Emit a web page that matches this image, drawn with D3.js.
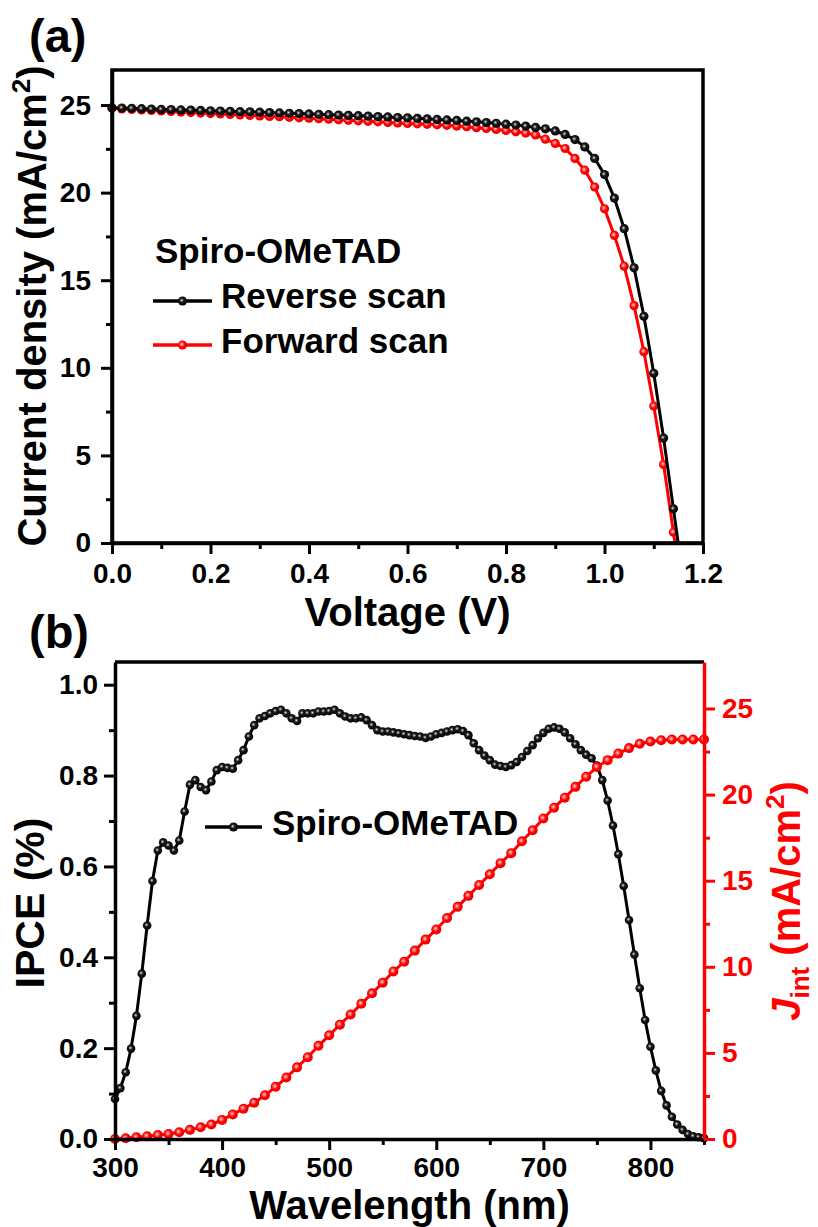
<!DOCTYPE html>
<html>
<head>
<meta charset="utf-8">
<script src="https://cdn.jsdelivr.net/npm/d3@7"></script>
<style>
body { margin: 0; background: #fff; }
svg text { font-family: "Liberation Sans", Arial, sans-serif; font-weight: bold; }
</style>
</head>
<body>
<div id="chart"></div>
<script>
// (a) J-V curves
const voltage = [0.00, 0.02, 0.04, 0.06, 0.08, 0.10, 0.12, 0.14, 0.16, 0.18,
    0.20, 0.22, 0.24, 0.26, 0.28, 0.30, 0.32, 0.34, 0.36, 0.38,
    0.40, 0.42, 0.44, 0.46, 0.48, 0.50, 0.52, 0.54, 0.56, 0.58,
    0.60, 0.62, 0.64, 0.66, 0.68, 0.70, 0.72, 0.74, 0.76, 0.78,
    0.80, 0.82, 0.84, 0.86, 0.88, 0.90, 0.92, 0.94, 0.96, 0.98,
    1.00, 1.02, 1.04, 1.06, 1.08, 1.10, 1.12, 1.14, 1.16];
const reverseJ = [24.85, 24.83, 24.81, 24.79, 24.77, 24.75, 24.74, 24.72, 24.71, 24.69,
    24.67, 24.66, 24.64, 24.62, 24.61, 24.59, 24.57, 24.55, 24.53, 24.51,
    24.49, 24.47, 24.45, 24.43, 24.41, 24.39, 24.37, 24.34, 24.32, 24.29,
    24.27, 24.24, 24.21, 24.18, 24.15, 24.12, 24.08, 24.04, 24.00, 23.96,
    23.91, 23.86, 23.80, 23.72, 23.64, 23.52, 23.32, 23.03, 22.61, 21.95,
    21.03, 19.69, 17.94, 15.71, 12.94, 9.69, 5.99, 1.95, -2.1];
const forwardJ = [24.82, 24.78, 24.75, 24.72, 24.69, 24.66, 24.63, 24.60, 24.57, 24.54,
    24.51, 24.49, 24.46, 24.43, 24.41, 24.38, 24.35, 24.33, 24.30, 24.27,
    24.25, 24.22, 24.19, 24.16, 24.13, 24.10, 24.07, 24.04, 24.01, 23.98,
    23.95, 23.93, 23.90, 23.87, 23.84, 23.80, 23.76, 23.71, 23.66, 23.61,
    23.55, 23.48, 23.40, 23.29, 23.05, 22.81, 22.52, 21.95, 21.28, 20.32,
    19.08, 17.56, 15.80, 13.55, 10.92, 7.82, 4.48, 0.61, -3.4];
const voltTicks = [0.0, 0.2, 0.4, 0.6, 0.8, 1.0, 1.2];
const voltMinor = [0.1, 0.3, 0.5, 0.7, 0.9, 1.1];
const currentTicks = [0, 5, 10, 15, 20, 25];
const currentMinor = [2.5, 7.5, 12.5, 17.5, 22.5];

// (b) IPCE and integrated current
const wavelength = [300, 305, 310, 315, 320, 325, 330, 335, 340, 345,
    350, 355, 360, 365, 370, 375, 380, 385, 390, 395,
    400, 405, 410, 415, 420, 425, 430, 435, 440, 445,
    450, 455, 460, 465, 470, 475, 480, 485, 490, 495,
    500, 505, 510, 515, 520, 525, 530, 535, 540, 545,
    550, 555, 560, 565, 570, 575, 580, 585, 590, 595,
    600, 605, 610, 615, 620, 625, 630, 635, 640, 645,
    650, 655, 660, 665, 670, 675, 680, 685, 690, 695,
    700, 705, 710, 715, 720, 725, 730, 735, 740, 745,
    750, 755, 760, 765, 770, 775, 780, 785, 790, 795,
    800, 805, 810, 815, 820, 825, 830, 835, 840, 845, 850];
const ipce = [0.088, 0.112, 0.147, 0.199, 0.271, 0.364, 0.470, 0.568, 0.635, 0.653,
    0.646, 0.635, 0.657, 0.721, 0.780, 0.790, 0.775, 0.768, 0.787, 0.812,
    0.819, 0.817, 0.815, 0.834, 0.856, 0.886, 0.911, 0.926, 0.931, 0.937,
    0.942, 0.945, 0.937, 0.926, 0.920, 0.937, 0.937, 0.937, 0.941, 0.941,
    0.942, 0.945, 0.937, 0.930, 0.926, 0.926, 0.928, 0.922, 0.911, 0.900,
    0.897, 0.897, 0.895, 0.893, 0.891, 0.889, 0.887, 0.886, 0.883, 0.886,
    0.891, 0.894, 0.897, 0.900, 0.902, 0.898, 0.889, 0.871, 0.856, 0.844,
    0.834, 0.824, 0.821, 0.819, 0.823, 0.830, 0.841, 0.854, 0.867, 0.882,
    0.894, 0.903, 0.906, 0.903, 0.895, 0.882, 0.869, 0.856, 0.846, 0.838,
    0.822, 0.790, 0.745, 0.690, 0.627, 0.557, 0.482, 0.406, 0.332, 0.262,
    0.203, 0.151, 0.106, 0.074, 0.049, 0.032, 0.020, 0.011, 0.006, 0.004, 0.002];
const jintWavelength = [300, 310, 320, 330, 340, 350, 360, 370, 380, 390,
    400, 410, 420, 430, 440, 450, 460, 470, 480, 490,
    500, 510, 520, 530, 540, 550, 560, 570, 580, 590,
    600, 610, 620, 630, 640, 650, 660, 670, 680, 690,
    700, 710, 720, 730, 740, 750, 760, 770, 780, 790,
    800, 810, 820, 830, 840, 850];
const jint = [0, 0.04, 0.10, 0.16, 0.23, 0.29, 0.39, 0.53, 0.68, 0.84,
    1.11, 1.43, 1.76, 2.11, 2.54, 3.03, 3.57, 4.16, 4.75, 5.41,
    6.02, 6.64, 7.23, 7.85, 8.46, 9.08, 9.73, 10.29, 10.94, 11.58,
    12.17, 12.83, 13.48, 14.12, 14.75, 15.37, 16.02, 16.60, 17.29, 17.93,
    18.61, 19.24, 19.82, 20.45, 21.04, 21.60, 22.00, 22.38, 22.70, 22.95,
    23.08, 23.16, 23.20, 23.20, 23.20, 23.20];
const wavelengthTicks = [300, 400, 500, 600, 700, 800];
const wavelengthMinor = [350, 450, 550, 650, 750, 850];
const ipceTicks = [0.0, 0.2, 0.4, 0.6, 0.8, 1.0];
const ipceMinor = [0.1, 0.3, 0.5, 0.7, 0.9];
const jintTicks = [0, 5, 10, 15, 20, 25];
const jintMinor = [2.5, 7.5, 12.5, 17.5, 22.5];

const RED = '#ff0000';
const TICK_FONT = 28;

const svg = d3.select('#chart').append('svg')
    .attr('width', 818)
    .attr('height', 1227);

const defs = svg.append('defs');

// shaded ball markers
function ballGradient(id, stops) {
    const grad = defs.append('radialGradient')
        .attr('id', id)
        .attr('cx', '42%').attr('cy', '42%').attr('r', '58%');
    stops.forEach(([o, c]) => grad.append('stop').attr('offset', o).attr('stop-color', c));
}
ballGradient('ballBlack', [['0%', '#e6e6e6'], ['16%', '#909090'], ['38%', '#1c1c1c'], ['100%', '#000']]);
ballGradient('ballRed', [['0%', '#ffd6d6'], ['25%', '#ff6a6a'], ['55%', '#ff0000'], ['100%', '#ea0000']]);

function clip(id, x, y, w, h) {
    defs.append('clipPath').attr('id', id)
        .append('rect').attr('x', x).attr('y', y).attr('width', w).attr('height', h);
}

function styleAxis(g, color) {
    g.attr('font-size', TICK_FONT)
        .attr('font-family', '"Liberation Sans", Arial, sans-serif')
        .attr('font-weight', 'bold');
    g.selectAll('line').attr('stroke', color).attr('stroke-width', 3);
    g.selectAll('path.domain').attr('stroke', color).attr('stroke-width', 3.5);
    g.selectAll('text').attr('fill', color);
}

function minorAxis(parent, axis, transform, color) {
    const g = parent.append('g').attr('transform', transform).call(axis);
    g.select('.domain').remove();
    g.selectAll('text').remove();
    g.selectAll('line').attr('stroke', color).attr('stroke-width', 3);
}

function series(parent, xs, ys, x, y, color, grad, r, clipId) {
    const pts = xs.map((v, i) => [v, ys[i]]);
    parent.append('path')
        .datum(pts)
        .attr('clip-path', `url(#${clipId})`)
        .attr('fill', 'none')
        .attr('stroke', color)
        .attr('stroke-width', 3)
        .attr('stroke-linejoin', 'round')
        .attr('d', d3.line().x(d => x(d[0])).y(d => y(d[1])));
    parent.append('g')
        .selectAll('circle')
        .data(pts.filter(d => d[1] >= 0))
        .join('circle')
        .attr('cx', d => x(d[0]))
        .attr('cy', d => y(d[1]))
        .attr('r', r)
        .attr('fill', `url(#${grad})`);
}

function legendItem(parent, x1, x2, y, color, grad, r, label, tx, ty) {
    parent.append('line')
        .attr('x1', x1).attr('x2', x2).attr('y1', y).attr('y2', y)
        .attr('stroke', color).attr('stroke-width', 3.5);
    parent.append('circle')
        .attr('cx', (x1 + x2) / 2).attr('cy', y).attr('r', r)
        .attr('fill', `url(#${grad})`);
    parent.append('text')
        .attr('x', tx).attr('y', ty)
        .attr('font-size', 35)
        .text(label);
}

// ---------- panel (a) ----------
const xA = d3.scaleLinear().domain([0, 1.2]).range([112, 703]);
const yA = d3.scaleLinear().domain([0, 27]).range([543, 70]);
clip('clipA', 112, 70, 591, 473);

const a = svg.append('g');

series(a, voltage, forwardJ, xA, yA, RED, 'ballRed', 4.6, 'clipA');
series(a, voltage, reverseJ, xA, yA, '#000', 'ballBlack', 4.6, 'clipA');

a.append('rect')
    .attr('x', 112).attr('y', 70).attr('width', 591).attr('height', 473)
    .attr('fill', 'none').attr('stroke', '#000').attr('stroke-width', 3.5);

minorAxis(a, d3.axisBottom(xA).tickValues(voltMinor).tickSize(6).tickFormat(''), 'translate(0,543)', '#000');
minorAxis(a, d3.axisLeft(yA).tickValues(currentMinor).tickSize(6).tickFormat(''), 'translate(112,0)', '#000');

a.append('g')
    .attr('transform', 'translate(0,543)')
    .call(d3.axisBottom(xA).tickValues(voltTicks).tickSize(11).tickSizeOuter(0).tickPadding(9).tickFormat(d3.format('.1f')))
    .call(g => styleAxis(g, '#000'));

a.append('g')
    .attr('transform', 'translate(112,0)')
    .call(d3.axisLeft(yA).tickValues(currentTicks).tickSize(11).tickSizeOuter(0).tickPadding(10))
    .call(g => styleAxis(g, '#000'));

a.append('text')
    .attr('x', 407.5).attr('y', 626)
    .attr('text-anchor', 'middle')
    .attr('font-size', 40)
    .text('Voltage (V)');

const yTitleA = a.append('text')
    .attr('transform', 'translate(46,306) rotate(-90)')
    .attr('text-anchor', 'middle')
    .attr('font-size', 40);
yTitleA.append('tspan').text('Current density (mA/cm');
yTitleA.append('tspan').attr('font-size', 26).attr('dy', -16).text('2');
yTitleA.append('tspan').attr('dy', 16).text(')');

a.append('text').attr('x', 155).attr('y', 263).attr('font-size', 35).text('Spiro-OMeTAD');
legendItem(a, 153, 212, 301, '#000', 'ballBlack', 4.6, 'Reverse scan', 221, 308);
legendItem(a, 153, 212, 345, RED, 'ballRed', 4.6, 'Forward scan', 221, 353);

a.append('text').attr('x', 29).attr('y', 52).attr('font-size', 47).text('(a)');

// ---------- panel (b) ----------
const xB = d3.scaleLinear().domain([300, 850]).range([115, 704]);
const yB = d3.scaleLinear().domain([0, 1.05]).range([1139, 662]);
const yR = d3.scaleLinear().domain([0, 27.7]).range([1139, 662]);
clip('clipB', 115, 662, 589, 477);

const b = svg.append('g');

series(b, wavelength, ipce, xB, yB, '#000', 'ballBlack', 4.3, 'clipB');
series(b, jintWavelength, jint, xB, yR, RED, 'ballRed', 5, 'clipB');

// top frame line
b.append('line')
    .attr('x1', 115).attr('x2', 704).attr('y1', 662).attr('y2', 662)
    .attr('stroke', '#000').attr('stroke-width', 3.5);

minorAxis(b, d3.axisBottom(xB).tickValues(wavelengthMinor).tickSize(6).tickFormat(''), 'translate(0,1139)', '#000');
minorAxis(b, d3.axisLeft(yB).tickValues(ipceMinor).tickSize(6).tickFormat(''), 'translate(115,0)', '#000');
minorAxis(b, d3.axisRight(yR).tickValues(jintMinor).tickSize(6).tickFormat(''), 'translate(704,0)', RED);

b.append('g')
    .attr('transform', 'translate(0,1139)')
    .call(d3.axisBottom(xB).tickValues(wavelengthTicks).tickSize(11).tickSizeOuter(0).tickPadding(7))
    .call(g => styleAxis(g, '#000'));

b.append('g')
    .attr('transform', 'translate(115,0)')
    .call(d3.axisLeft(yB).tickValues(ipceTicks).tickSize(11).tickSizeOuter(0).tickPadding(6).tickFormat(d3.format('.1f')))
    .call(g => styleAxis(g, '#000'));

b.append('g')
    .attr('transform', 'translate(704,0)')
    .call(d3.axisRight(yR).tickValues(jintTicks).tickSize(11).tickSizeOuter(0).tickPadding(7))
    .call(g => styleAxis(g, RED));

b.append('text')
    .attr('x', 409.5).attr('y', 1219)
    .attr('text-anchor', 'middle')
    .attr('font-size', 40)
    .text('Wavelength (nm)');

b.append('text')
    .attr('transform', 'translate(44,903) rotate(-90)')
    .attr('text-anchor', 'middle')
    .attr('font-size', 41)
    .text('IPCE (%)');

const yTitleR = b.append('text')
    .attr('transform', 'translate(800,901) rotate(-90)')
    .attr('text-anchor', 'middle')
    .attr('font-size', 40)
    .attr('fill', RED);
yTitleR.append('tspan').attr('font-style', 'italic').text('J');
yTitleR.append('tspan').attr('font-size', 26).attr('dy', 9).text('int');
yTitleR.append('tspan').attr('dy', -9).text(' (mA/cm');
yTitleR.append('tspan').attr('font-size', 26).attr('dy', -16).text('2');
yTitleR.append('tspan').attr('dy', 16).text(')');

legendItem(b, 205, 262, 827, '#000', 'ballBlack', 4.6, 'Spiro-OMeTAD', 272, 835);

b.append('text').attr('x', 29).attr('y', 648).attr('font-size', 47).text('(b)');
</script>
</body>
</html>
